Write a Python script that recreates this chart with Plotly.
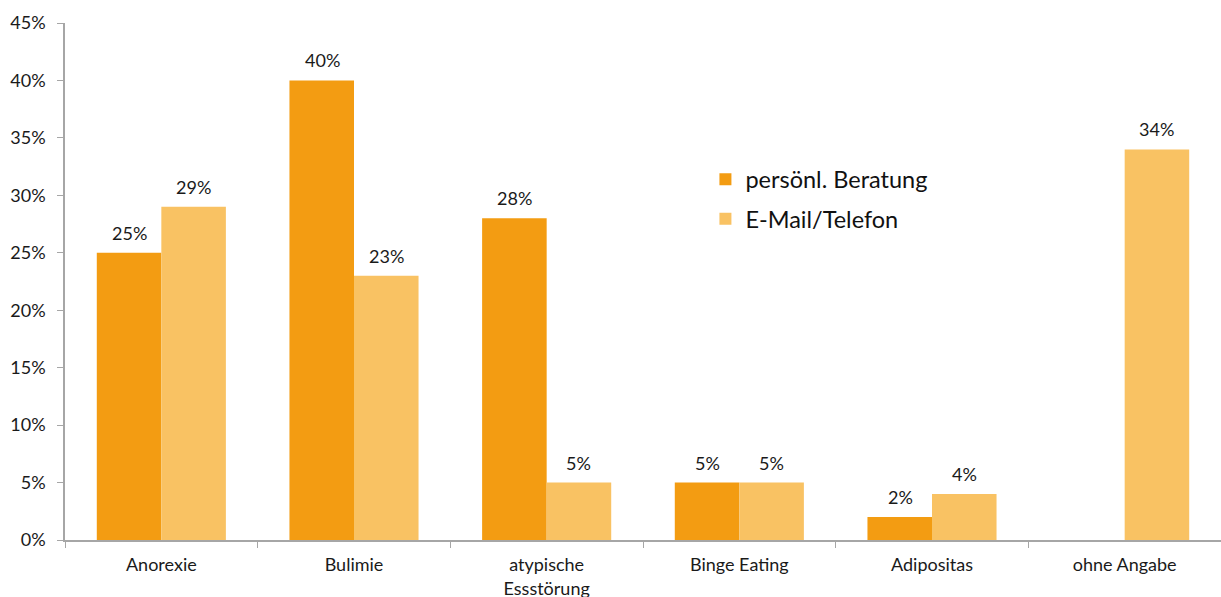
import plotly.graph_objects as go

# Kategorien und Anteile (in %)
categories = ["Anorexie", "Bulimie", "atypische<br>Essstörung", "Binge Eating", "Adipositas", "ohne Angabe"]
persoenlich = [25, 40, 28, 5, 2, None]
email_telefon = [29, 23, 5, 5, 4, 34]
y_ticks = [0, 5, 10, 15, 20, 25, 30, 35, 40, 45]

dark = "#F39C12"
light = "#F9C263"
font_family = "Lato, 'Open Sans', sans-serif"

fig = go.Figure()
fig.add_trace(go.Bar(name="persönl. Beratung", x=categories, y=persoenlich,
                     legendgroup="a", marker=dict(color=dark, line=dict(width=0))))
fig.add_trace(go.Bar(name="E-Mail/Telefon", x=categories, y=email_telefon,
                     legendgroup="b", marker=dict(color=light, line=dict(width=0))))

# Werte-Beschriftungen über den Balken
bar_half = 32
for series, shift in ((persoenlich, -bar_half), (email_telefon, bar_half)):
    for cat, val in zip(categories, series):
        if val is None:
            continue
        fig.add_annotation(x=cat, y=val, text=f"{val}%", showarrow=False,
                           xshift=shift, yshift=7, yanchor="bottom",
                           font=dict(size=18, color="#1a1a1a", family=font_family))

fig.update_layout(
    width=1221, height=597,
    margin=dict(l=65, r=0, t=23, b=57),
    plot_bgcolor="white", paper_bgcolor="white",
    barmode="group", bargap=0.33, bargroupgap=0,
    font=dict(family=font_family, size=18, color="#1a1a1a"),
    legend=dict(x=0.554, y=0.74, xanchor="left", yanchor="top",
                font=dict(size=23.5, color="#111111"),
                bgcolor="rgba(0,0,0,0)", traceorder="grouped",
                tracegroupgap=6, itemwidth=30),
    showlegend=True,
)
fig.update_xaxes(
    type="category", tickson="boundaries", ticks="outside", ticklen=6,
    tickcolor="#a6a6a6", showline=True, linecolor="#a6a6a6", linewidth=1.5,
    showgrid=False, tickfont=dict(size=18), ticklabelstandoff=8, automargin=False,
)
fig.update_yaxes(
    range=[0, 45], tickvals=y_ticks, ticktext=[f"{v}%" for v in y_ticks],
    ticks="outside", ticklen=6, tickcolor="#a6a6a6",
    showline=True, linecolor="#a6a6a6", linewidth=1.5,
    showgrid=False, zeroline=False, tickfont=dict(size=18), ticklabelstandoff=8,
    automargin=False,
)

fig.write_html("out.html")
